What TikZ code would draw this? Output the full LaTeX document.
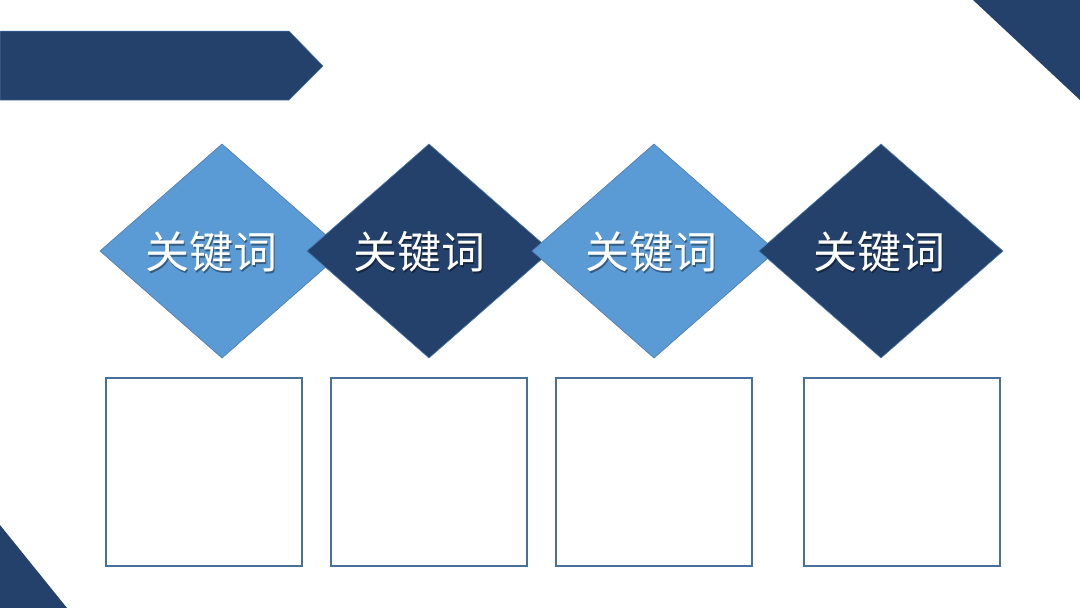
\documentclass[tikz,border=0pt]{standalone}
\usepackage{fontspec}
\newfontfamily\cjk{Noto Sans CJK SC}
\usetikzlibrary{shapes.geometric}
\definecolor{navy}{HTML}{24416B}
\definecolor{lightblue}{HTML}{5B9BD5}
\definecolor{edgeblue}{HTML}{4A7AAE}
\definecolor{boxline}{HTML}{47709A}
\tikzset{
  deco/.style={fill=navy, draw=none},
  gem/.style={shape=diamond, minimum width=244pt, minimum height=214pt, inner sep=0pt, outer sep=0pt, draw=edgeblue, line width=0.6pt},
  gemlight/.style={gem, fill=lightblue},
  gemdark/.style={gem, fill=navy},
  kw/.style={font=\cjk\fontsize{44}{50}\selectfont, text=white, inner sep=0pt},
  kwshadow/.style={font=\cjk\fontsize{44}{50}\selectfont, text=black, opacity=0.4, inner sep=0pt},
  card/.style={draw=boxline, line width=1.6pt, fill=white, minimum width=196pt, minimum height=188pt, inner sep=0pt, anchor=north west}
}
\begin{document}
\begin{tikzpicture}[x=1pt,y=-1pt]
\useasboundingbox (0,0) rectangle (1080,608);
\fill[white] (0,0) rectangle (1080,608);
% decorations
\draw[deco, draw=edgeblue, line width=0.5pt] (0,31) -- (289,31) -- (323,66) -- (289,100) -- (0,100) -- cycle;
\fill[navy] (973,0) -- (1080,0) -- (1080,100) -- cycle;
\fill[navy] (0,525) -- (0,608) -- (67,608) -- cycle;
% diamonds
\node[gemlight] (d1) at (222,251) {};
\node[gemdark]  (d2) at (429,251) {};
\node[gemlight] (d3) at (654,251) {};
\node[gemdark]  (d4) at (881,251) {};
% labels
\foreach \n/\x in {1/211,2/419,3/651,4/879}{
  \node[kwshadow] (s\n) at (\x+1.5,253.5) {关键词};
  \node[kw] (t\n) at (\x,252) {关键词};
}
% boxes
\node[card] (b1) at (105,377) {};
\node[card] (b2) at (330,377) {};
\node[card] (b3) at (555,377) {};
\node[card] (b4) at (803,377) {};
\end{tikzpicture}
\end{document}
